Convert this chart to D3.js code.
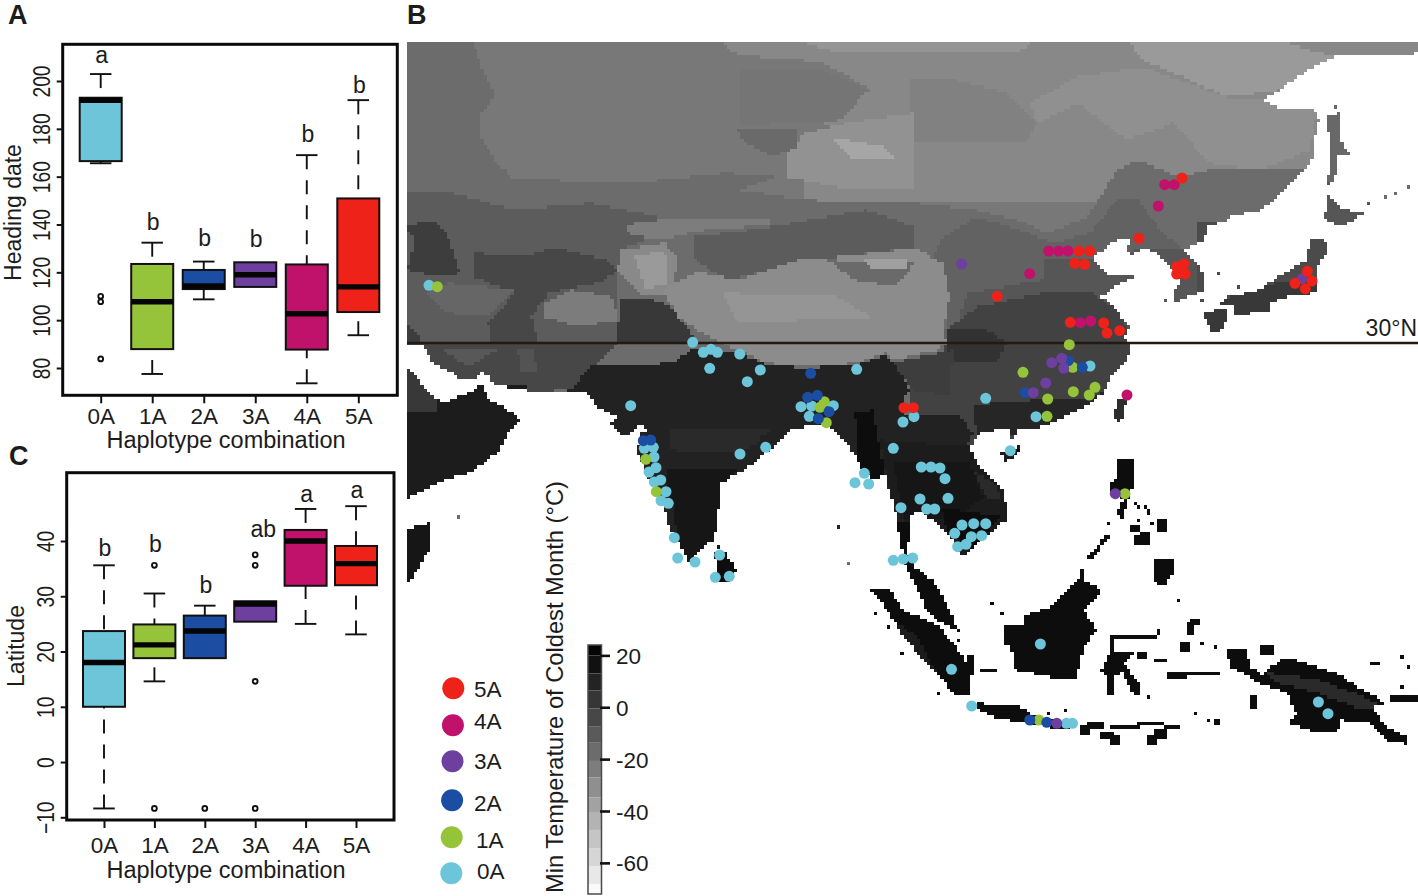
<!DOCTYPE html>
<html>
<head>
<meta charset="utf-8">
<script src="https://cdn.jsdelivr.net/npm/d3@7"></script>
<style>
  html, body { margin: 0; background: #fff; }
  svg { display: block; }
  text { font-family: "Liberation Sans", Arial, sans-serif; fill: #1c1c1c; }
</style>
</head>
<body>
<svg id="fig" width="1418" height="896"></svg>
<script>
// categories
const haplotypes = ["0A", "1A", "2A", "3A", "4A", "5A"];
const legendOrder = ["5A", "4A", "3A", "2A", "1A", "0A"];
const hapColors = ["#6cc5d9", "#95c43a", "#1b4ea3", "#6d3f9f", "#c0126b", "#ee2218"];

// panel A, heading date
const headingTicks = [80, 100, 120, 140, 160, 180, 200];
const headingQ1 = [166.5, 87.9, 113, 113.9, 87.7, 103.4];
const headingMed = [191.9, 107.7, 114.3, 119, 102.7, 113.9];
const headingQ3 = [193, 123.5, 121, 124.2, 123.3, 150.9];
const headingLo = [165.6, 77.5, 108.7, 113.9, 73.6, 93.7];
const headingHi = [202.9, 132.4, 124.5, 124.2, 169, 192];
const headingOut = [[110, 107.7, 83.8], [], [], [], [], []];
const headingSig = ["a", "b", "b", "b", "b", "b"];
const headingSigAt = [207.5, 137.7, 131, 130.7, 174.6, 195];

// panel C, latitude
const latTicks = [-10, 0, 10, 20, 30, 40];
const latQ1 = [10, 18.8, 18.8, 25.4, 31.9, 32];
const latMed = [18, 21.2, 23.7, 28.6, 40, 35.9];
const latQ3 = [23.7, 24.9, 26.5, 29.1, 42, 39.1];
const latLo = [-8.4, 14.6, 18.8, 25.4, 25, 23.1];
const latHi = [35.6, 30.5, 28.3, 29.1, 45.8, 46.3];
const latOut = [[], [35.6, -8.4], [-8.4], [37.5, 35.6, 14.6, -8.4], [], []];
const latSig = ["b", "b", "b", "ab", "a", "a"];
const latSigAt = [37.2, 38, 30.6, 40.7, 47.1, 47.7];

// accessions on the map, [lon, lat]
const sites0A = [[51.2,35.77],[77.57,30.07],[78.63,29.07],[79.4,29.37],[80.03,29.07],[82.27,28.9],[79.27,27.47],[84.33,27.3],[83.03,26.13],[93.97,27.37],[71.37,23.73],[88.4,23.63],[89.47,23.7],[91.63,23.73],[89.23,22.67],[72.73,19.47],[73.63,19.57],[73.7,18.6],[73.9,17.53],[73.2,17.1],[74.37,16.3],[73.73,16.1],[74.9,15.13],[74.4,14.23],[75.13,13.97],[75.73,10.53],[76.07,8.5],[77.8,8.1],[80.27,8.8],[79.83,6.57],[81.23,6.67],[82.3,18.9],[84.87,19.57],[94.73,16.97],[93.8,16.03],[95.17,15.9],[98.4,13.53],[97.63,19.47],[98.6,22.1],[99.7,22.63],[106.87,24.47],[100.43,17.6],[101.4,17.6],[102.3,17.5],[102.8,16.43],[103.1,14.47],[100.3,14.4],[100.97,13.4],[101.77,13.4],[104.5,11.8],[105.67,11.93],[106.87,11.93],[103.77,10.97],[105.43,10.63],[106.47,10.73],[104.07,9.63],[104.9,9.87],[97.63,8.27],[98.63,8.4],[99.57,8.5],[111.9,22.63],[109.33,19.23],[117.3,27.7],[103.45,-2.63],[112.34,-0.1],[105.47,-6.3],[114.94,-8.03],[115.55,-8.03],[140.14,-5.9],[141.1,-7.07]];
const sites1A = [[52.03,35.63],[115.23,29.83],[110.6,27.07],[115.57,27.57],[113.07,24.4],[113,22.67],[115.63,25.13],[117.23,24.8],[117.8,25.57],[120.8,14.93],[90.73,24.13],[90.3,23.57],[90.93,22.03],[72.87,18.37],[73.93,15.13],[112.2,-7.7]];
const sites2A = [[72.63,20.23],[73.37,20.3],[89.37,26.97],[89.07,24.57],[90.03,24.77],[91.2,23.13],[90.13,22.43],[115.13,28.23],[116.53,27.57],[110.8,25.03],[111.28,-7.7],[112.98,-7.93]];
const sites3A = [[113.47,28.03],[114.47,28.47],[114.67,27.47],[112.87,26],[111.63,25.03],[119.83,14.93],[104.47,37.9],[138.5,36.43],[113.98,-8.03]];
const sites4A = [[124.77,45.83],[125.73,45.83],[124.13,43.7],[113.17,39.2],[114.17,39.2],[115.1,39.2],[111.27,36.93],[116.33,32.03],[117.37,32.2],[121,24.8]];
const sites5A = [[126.5,46.5],[122.2,40.47],[116.2,39.2],[117.27,39.2],[115.77,37.97],[116.77,37.87],[108.03,34.67],[115.33,32.07],[118.67,32],[119,31],[120.27,31.23],[125.97,37.63],[126.7,37.9],[125.97,36.9],[126.83,36.9],[139.03,37.17],[139.5,36.2],[137.8,35.97],[138.83,35.43],[98.7,23.53],[99.63,23.53]];
const sitesByHap = [sites0A, sites1A, sites2A, sites3A, sites4A, sites5A];

// land outlines, [lon, lat]
const eurasia = [[48.5,60.3],[151,60.3],[151,59.1],[148.3,58.8],[141.6,58.6],[140.3,58],[138.3,56.8],[136.3,55.3],[134.6,54.3],[136.1,53.5],[139.6,53.6],[140.2,52.3],[140.1,51.3],[139.6,50],[139.5,48.3],[138,46.6],[136.3,45],[134.3,43.1],[131.5,42.8],[131.1,42.3],[129.1,41.6],[128.6,40.3],[126.8,39.3],[128,38.1],[128.8,36.5],[128.8,35.1],[127.6,34.8],[125.8,34.1],[125.6,35.1],[126.3,36.1],[125.5,37.3],[124.5,38.3],[124,39.1],[122.6,39.5],[121.3,38.6],[121,39.5],[121.6,40.5],[120.3,40.6],[119,39.6],[117.6,38.5],[119.3,36.7],[122,36.8],[120,35.8],[118.5,34.6],[119.6,33.8],[120.6,32.3],[121.3,31.6],[120.6,30.5],[121.4,29.8],[121,28.3],[119.6,27],[118.6,25],[116.6,23.5],[114.3,22.5],[112.3,21.5],[110,21.5],[110.1,21.1],[109.5,20.3],[109.1,21.5],[106.3,21],[105.3,19.6],[106,18],[107.6,16.3],[108.8,15],[108.9,12.3],[107.6,11.3],[105.6,9.6],[104.5,8.6],[104,9.5],[103.5,10.6],[101.5,12.3],[100,13.3],[99.5,12.6],[99.3,11],[99,9.1],[99.8,7.6],[101.5,6.3],[103,4],[103.9,1.5],[102.7,1.8],[100.9,3.3],[100,5.6],[98.9,7.6],[98.6,9],[98.1,11.3],[97.9,13],[97.3,15],[96.8,17],[95.8,16.3],[94.5,17.6],[93.6,19.1],[91.8,21.3],[90.8,21.8],[87.5,21.5],[86.5,20.3],[83.8,18.1],[82.1,17],[80.3,15.8],[80.1,12.3],[79.6,10.3],[78.1,9.1],[77.1,8.1],[76.5,9.3],[75.1,12],[74.5,14.3],[73.1,16.6],[72.1,19],[72.3,21],[73,21.3],[72.4,22],[70.8,20.6],[69.3,21.8],[70.1,22.6],[68.1,23.5],[67,25.1],[62.8,25],[57.8,25.8],[57,26.9],[56.3,27],[55.5,26.3],[54.1,26.6],[51.6,28],[50.8,29.6],[48.5,29.8]];
const arabia = [[48.5,27.7],[49,27.7],[50.8,25.5],[52.5,24],[55.1,25],[56.6,25.9],[57.1,24.5],[59.1,23.3],[60.2,22.3],[59.1,21],[58.1,19],[55.1,17],[52.8,16.3],[50.1,15],[48.5,14]];
const horn = [[48.5,11.3],[51.4,12],[51.4,9.5],[49.8,7],[48.5,5.2]];
const sriLanka = [[79.8,9],[80.8,9.1],[81.9,7.3],[81.3,6.1],[80,6.1]];
const sumatra = [[95.2,5.5],[97.3,5.3],[98.6,3.3],[102.1,1.8],[103.2,0.5],[105.3,-2.4],[105.3,-5.2],[104.1,-5.4],[102.5,-3.7],[100.4,-1.4],[98.7,0.6],[96.8,3.6]];
const borneo = [[116.5,7.3],[116.7,6.3],[118.5,5.3],[116.7,3.3],[118,1.3],[116.7,-0.4],[116,-3.4],[114.6,-3.7],[111.4,-3],[109.8,-2.7],[109.4,-0.5],[108.7,0],[108.7,1.8],[110.7,1.8],[110.8,2.8],[113.2,3.6],[114.8,5],[116,6.1]];
const java = [[105.9,-5.9],[107.5,-6.2],[110.3,-6.4],[112.1,-7.4],[116,-8.2],[114.6,-8.6],[111,-8],[109.6,-7.8],[107.8,-7.4],[106.2,-6.7]];
const sulawesi = [[119.2,-1],[121.7,-0.9],[120.6,-2],[122.2,-4],[122.2,-5.2],[121.7,-5.2],[120.5,-3],[119.7,-3.4],[119.7,-5.2],[118.9,-5.2],[119,-3.2],[118.3,-2.9]];
const sulawesiArm = [[119.4,0.8],[123.8,0.8],[124.4,1.6],[124.6,1.4],[123.7,0.4],[119.7,0.5],[119.7,-1],[119.2,-1]];
const newGuinea = [[131,-0.5],[132.9,-0.5],[133.4,-2.4],[134.5,-3.2],[136.3,-1.7],[137.5,-1.5],[139.9,-2.4],[142,-3],[144.1,-4.4],[145.2,-4.9],[146.8,-6],[145.5,-6.5],[147,-8.4],[149.1,-9.5],[149.1,-10.1],[147,-9.9],[145.2,-8],[142.3,-7.7],[142.3,-8.7],[139.9,-8.9],[137,-8],[137.9,-7],[137,-5],[134.2,-4],[133.1,-3.2],[131.3,-2.5]];
const luzon = [[120,18.3],[121.6,18.3],[121.6,15.6],[121.1,14.3],[120.5,12.3],[120,13.1],[120.6,14.3],[119.3,15.3],[119.3,16.1],[120,16.6]];
const mindanao = [[123.5,8.3],[125.8,8.5],[125.6,7],[124.7,5.5],[123.7,6.3]];
const palawan = [[117,8.5],[119,10.9],[119.4,10.7],[117.4,8.3]];
const taiwan = [[120.1,24.5],[121,24.5],[120.3,21.8],[119.6,22.6]];
const hainan = [[108.3,19.1],[110.6,19.8],[109.6,18.5],[108.8,18.1]];
const honshu = [[139.3,40.5],[140.8,40.3],[141.1,39.3],[140,37.5],[140.1,35],[137.5,34.8],[135.3,34],[135.3,33.1],[131.8,32.8],[131.6,33.6],[130.3,33.8],[131,34.6],[134.3,35.3],[135.6,36.3],[137.3,37.3],[139,38.3]];
const kyushu = [[128.6,33],[130.8,33.6],[131.1,32.3],[130.1,31],[129.5,31]];
const hokkaido = [[141,45],[142.3,43.6],[144.7,42.9],[142.3,41.6],[140.6,42.5],[141,43.3]];
const sakhalin = [[141,52.8],[142.3,53],[142.5,50],[143.4,48.9],[142,48.6],[141.8,46.6],[141,45.6],[141.3,48],[141.3,50]];
const landPolys = [eurasia, arabia, horn, sriLanka, sumatra, borneo, java, sulawesi, sulawesiArm, newGuinea, luzon, mindanao, palawan, taiwan, hainan, honshu, kyushu, hokkaido, sakhalin];

// smaller islands as [lon0, lat0, lon1, lat1]
const islandBoxes = [[116.4,-8.9,117.1,-8.3],[117.1,-8.4,118.5,-8],[119.4,-8.5,122,-8.3],[122,-8.2,123.1,-8],[123.5,-8.2,124.5,-8],[124.7,-8.5,126.3,-8.3],[118.5,-9.5,119.6,-8.9],[119.4,-9.9,120.3,-9.4],[123.1,-9.9,123.8,-9.4],[123.8,-9.4,124.9,-8.7],[125.3,-3.4,126.7,-3.1],[127.2,-3.2,130,-2.9],[126.5,-0.7,127.2,0],[127.1,0.9,127.5,1.8],[127.5,1.9,128,2.4],[123.8,-1.8,124.9,-1.6],[122,-1.4,122.8,-1.2],[106.4,-2.8,107.8,-2.6],[105.3,-3,105.5,-1.5],[134.5,-0.9,135.4,-0.5],[145.5,-2.1,146.3,-1.9],[147.5,-5.6,150,-5.3],[133.5,-6.4,133.7,-5.4],[129.9,-8.2,130.3,-7.7],[121.6,11.2,122.2,11.6],[122.5,10,123,11],[121.7,10,122.3,10.5],[124,11.4,124.7,12.3]];
const islets = [[145.3,43.9],[146.7,44.6],[147.8,45],[149.1,45.6],[130.1,37.1],[132.1,35.7],[124.8,34.3],[128.6,34.3],[141.8,53.5],[54.2,12.6],[92.1,11.6],[93.1,8],[80,9.7],[119.3,12],[107.6,4],[108.4,3],[126.1,4.4],[102,-5.2],[98.6,-1.2],[97,1.6],[95.7,2.8],[104.1,1.2],[104.1,0.2],[114.8,-6.6],[113,-7],[123.3,-5.5],[127.9,-7],[129,-7.7],[129.9,-0.3],[128.6,0.1],[148.6,-1.3],[149.3,-2.4],[148.4,-4.5],[121.7,14],[122.2,13.7],[122.7,13.6],[123.1,13.2],[123.3,12.8],[122.3,12.4],[123.6,11.8]];

// temperature regions, later ones paint over earlier ones
const mapBaseTemp = -22.5;
const tempRegions = [
  [-29, [[80.1,60.3],[151,60.3],[151,44],[99.8,44],[88.8,44.3],[88.5,50],[92,51.5],[88.8,52.6],[95.5,55.3],[90.5,58.1],[82.1,58.8]]],
  [-21, [[82.5,57.6],[90.5,57.4],[95,55.3],[92.5,52.3],[82.5,51.8]]],
  [-36, [[121,60.3],[136,60.3],[141.6,58.6],[136.3,55.3],[131,54.6],[126.6,56.6],[122.6,58.3]]],
  [-34, [[88,60.3],[112,60.3],[110,59],[92,59]]],
  [-32, [[111.3,54],[116,56.6],[122.6,57.6],[131,54.6],[134.6,54.3],[140,53.3],[139.3,49.3],[134.3,47.3],[129.3,48],[125.6,52],[121,50.3],[116,54],[112,52]]],
  [-26, [[99.3,56.3],[104,56.3],[109,55],[112,52],[111,50],[99.3,50]]],
  [-33, [[88.8,51],[92.8,52],[99.8,53],[99.8,45.6],[92.1,45.6],[87.1,46.6],[87.1,49]]],
  [-41, [[91.5,50.6],[96.8,49.6],[97.8,48.3],[93.5,48.3]]],
  [-17, [[82.1,51.3],[88.1,51.6],[88.1,49.6],[85.5,48.6],[82.8,50]]],
  [-18, [[48.5,60.3],[55.5,60.3],[56.5,57.6],[57.8,54.6],[56.3,53],[56.5,50.3],[57.8,48.3],[59.5,46.6],[68.1,46],[74.8,46.3],[80.8,47],[85.8,46.6],[82.1,45.3],[88.8,44.3],[99.8,44],[106,43.3],[110,42.3],[113,41],[117,42.5],[120,47.3],[122.3,48.3],[126,46.6],[129.3,47.3],[133.6,47.3],[136.3,47.3],[151,47.3],[151,-12],[48.5,-12]]],
  [-14, [[106,42.6],[110.3,41.3],[113.6,40],[117.3,41],[120,44.3],[122,44.6],[124.3,41.3],[126.3,39.6],[132.6,39.6],[132.6,10],[100,10],[103.3,35],[101.3,38],[102.6,40.6]]],
  [-9.5, [[112.6,38.3],[120,38.6],[122.6,39.6],[127,39.6],[129.3,36],[129.3,33],[121.3,28.3],[103,28.3],[105,35],[112.6,36.3]]],
  [-4.5, [[128,30],[146,30],[146,42],[128,42]]],
  [2.5, [[130,30],[141,30],[141,36.6],[136,36],[131,34.5],[128,34]]],
  [-9, [[140,41.5],[146,41.5],[146,46],[140,46]]],
  [-16, [[140.5,46],[144,46],[144,54],[140.5,54]]],
  [-1, [[103,31.3],[106,33.6],[112.6,35],[117.6,35],[120,33.3],[122,29.6],[125,29],[125,15],[100,15],[99.3,25.3],[101.6,27.3],[103,30]]],
  [5, [[103,31.3],[104.3,31.6],[107,31.3],[109,30],[108,28],[103,28]]],
  [-11.6, [[48.5,45.3],[53.5,45],[59.8,43.3],[67.5,44],[74.1,42.6],[74.1,41],[70.5,39.3],[70.1,37.3],[70.1,30],[48.5,30]]],
  [-3, [[55.8,39],[60.5,38.6],[63.8,39.6],[68.8,38.3],[70.1,37.3],[68.1,36],[63.1,35],[61.5,32.6],[62.1,30],[57.5,30],[57.1,32],[59.8,35],[55.8,36.6]]],
  [1, [[48.5,41.6],[51.8,42.3],[53.1,40.6],[54.3,37],[52.1,36.6],[49.1,37.3],[49.8,40.6]]],
  [-15.5, [[53.1,36],[59.8,35.3],[57.1,32.6],[53.1,33],[50.8,35]]],
  [-23.7, [[62.8,34],[65.5,35.3],[69.5,34.6],[70.1,32.3],[66.1,31.6],[62.8,32.6]]],
  [1, [[48.5,32.3],[50.5,30.3],[48.5,30]]],
  [3, [[69.8,30],[70.5,34.3],[72.8,34.6],[75.5,33.6],[78.1,30]]],
  [-24.5, [[70.8,41.8],[74.1,42.3],[85.5,42.6],[85.5,41.8],[78.8,41.3],[74.1,40.3],[71.1,41]]],
  [-11, [[77.8,40.6],[85.5,41.6],[94.8,43.3],[99.8,41.6],[99.8,39.6],[92.1,38.6],[85.5,37.3],[80.8,36.3],[77.8,38.3]]],
  [-29.5, [[70.5,39.3],[74.8,40],[76.1,38.3],[75.5,35.6],[74.1,34.6],[72.1,35],[70.1,37.3]]],
  [-36, [[71.8,38.6],[74.8,39.3],[75.1,36],[72.8,35.3]]],
  [-30.7, [[74.5,35.3],[78.1,37.1],[82.1,36.3],[88.1,38.3],[92.1,38.6],[99.8,39.5],[102.6,38],[103.3,34.6],[102.6,31.3],[103,30],[102,29.3],[97.6,28.3],[96.8,29],[93.8,28],[88.8,27.6],[85.1,28],[82.1,29.3],[78.1,31.3],[76.1,32.6]]],
  [-17, [[91.1,38.3],[99.8,38],[97.8,35.6],[93.8,36.3]]],
  [-38, [[94.5,38.3],[98.8,38.6],[99.1,37.3],[95.5,37.6]]],
  [-34, [[80.5,35],[92.1,34.6],[95.5,32.6],[82.1,32]]],
  [-3, [[48.5,30],[70,30],[67.5,27.6],[65.5,25.3],[50,25],[48.5,25]]],
  [-10, [[52.1,29.6],[58,29.3],[55,27.6]]],
  [-8, [[60.1,29.3],[61.5,29.6],[62.1,27],[60.5,27]]],
  [11, [[67.5,27.6],[75.5,28],[77.8,29.6],[82.1,29],[85.1,27.8],[88.8,27.5],[93.8,27.8],[96.8,28.8],[97.6,28.1],[99.3,25.3],[98.6,24.3],[100,10],[60,10],[60,25],[65.5,25.3],[66.8,27]]],
  [13, [[48.5,13],[61,13],[61,24.6],[48.5,24.6]]],
  [13, [[52.5,24],[61,24],[61,25.9],[55,25.9]]],
  [2.5, [[48.5,28],[51.5,28],[52,23],[48.5,23]]],
  [18, [[48.5,4],[52,4],[52,13],[48.5,13]]],
  [16, [[74.8,17.6],[82.1,17.3],[80.8,15.6],[80.1,8],[76.5,8]]],
  [9, [[75.5,21.3],[85.5,21.6],[83.5,19.6],[80.8,19],[75.5,19.3]]],
  [21, [[79.7,5],[83,5],[83,9.3],[79.7,9.3]]],
  [14, [[96.3,20.3],[105.3,19.6],[109.3,14.6],[109.3,11.3],[104.3,8],[99.3,11.3],[97.6,13.6]]],
  [19, [[93.8,23],[95.5,23.3],[97.2,15],[94.1,17.3]]],
  [18, [[97.6,18],[105.3,18],[106.6,14.6],[104.3,12.6],[98.6,12.6]]],
  [21, [[102.3,13.6],[108.3,12.6],[105.6,9.3],[103,11.3]]],
  [9, [[105.6,17.3],[107.6,16],[108.6,14.3],[107,14.3]]],
  [11, [[96.3,23],[104.3,22.6],[105.6,21],[105,19.6],[96.6,20.3]]],
  [9.5, [[105.6,23.8],[114.3,24.5],[117.3,24.6],[118.6,25],[119.6,23.6],[114.3,21.3],[106,20.6]]],
  [1, [[97.6,28],[103.6,29.3],[103.3,24.6],[99.6,25.3]]],
  [14, [[108,17.5],[111,17.5],[111,20],[108,20]]],
  [7, [[119,21],[122,21],[122,25],[119,25]]],
  [20, [[94,-12],[151,-12],[151,8],[94,8]]],
  [20, [[98,8],[99.6,8],[99.6,12],[98,12]]],
  [20, [[110,8],[151,8],[151,19.3],[110,19.3]]],
  [9, [[135,-3],[140,-3.6],[145,-5.5],[146.5,-6.5],[144,-6.5],[140,-5],[136,-4]]],
  [13, [[98,2],[100,0.6],[102,-3],[101.5,-3],[98.5,0.5]]]
];

// colour bar
const tempTicks = [20, 0, -20, -40, -60];
const tempBreaks = [24, 20, 13, 6.5, -0.5, -7.3, -13.7, -20.7, -27, -34.7, -40.7, -47.3, -54.3, -61.2, -68.3, -72];
const tempGreys = ["#050505", "#111111", "#232323", "#363636", "#474747", "#5a5a5a", "#6c6c6c", "#7d7d7d", "#8f8f8f", "#a2a2a2", "#b3b3b3", "#c5c5c5", "#d6d6d6", "#e8e8e8", "#fafafa"];

const svg = d3.select("#fig");

//scales for the map
const lonX = d3.scaleLinear().domain([49, 150.1]).range([407, 1418]);
const latY = d3.scaleLinear().domain([60.1, -12]).range([42, 763]);
const tempGrey = d3.scaleLinear().domain([20, -60]).range(["#0d0d0d", "#d6d6d6"]);

const cellDeg = 1 / 3;
const nCols = Math.ceil((150.1 - 49) / cellDeg);
const nRows = Math.ceil((60.1 + 10.4) / cellDeg);

const extraLand = new Set();
const colOf = (lon) => Math.floor((lon - 49) / cellDeg);
const rowOf = (lat) => Math.floor((60.1 - lat) / cellDeg);
islets.forEach(([lon, lat]) => extraLand.add(rowOf(lat) * 1000 + colOf(lon)));
islandBoxes.forEach(([a, b, c, d]) => {
  for (let r = rowOf(d); r <= rowOf(b); r++) {
    for (let k = colOf(a); k <= colOf(c); k++) extraLand.add(r * 1000 + k);
  }
});

const paths = new Map();
for (let r = 0; r < nRows; r++) {
  for (let k = 0; k < nCols; k++) {
    const lon = 49 + (k + 0.5) * cellDeg;
    const lat = 60.1 - (r + 0.5) * cellDeg;
    const p = [lon, lat];
    if (!extraLand.has(r * 1000 + k) && !landPolys.some((poly) => d3.polygonContains(poly, p))) continue;

    let temp = mapBaseTemp;
    for (let i = tempRegions.length - 1; i >= 0; i--) {
      if (d3.polygonContains(tempRegions[i][1], p)) {
        temp = tempRegions[i][0];
        break;
      }
    }
    const x0 = lonX(49 + k * cellDeg);
    const x1 = lonX(49 + (k + 1) * cellDeg);
    const y0 = latY(60.1 - r * cellDeg);
    const y1 = latY(60.1 - (r + 1) * cellDeg);
    const d = `M${x0},${y0}H${x1}V${y1}H${x0}Z`;
    paths.set(temp, (paths.get(temp) || "") + d);
  }
}

const defs = svg.append("defs");
defs.append("filter").attr("id", "soft").append("feGaussianBlur").attr("stdDeviation", 0.45);

const mapG = svg.append("g").attr("filter", "url(#soft)");
paths.forEach((d, temp) => {
  mapG.append("path").attr("d", d).attr("fill", tempGrey(temp)).attr("shape-rendering", "crispEdges");
});

//30N line
svg.append("line")
  .attr("x1", lonX(49)).attr("x2", lonX(150.1))
  .attr("y1", latY(30)).attr("y2", latY(30))
  .attr("stroke", "#231a16").attr("stroke-width", 2.4);
svg.append("text").attr("x", 1417).attr("y", latY(30) - 7)
  .attr("text-anchor", "end").attr("font-size", 23).text("30°N");

//sites
haplotypes.forEach((h, i) => {
  svg.append("g").selectAll("circle").data(sitesByHap[i]).join("circle")
    .attr("cx", (d) => lonX(d[0]))
    .attr("cy", (d) => latY(d[1]))
    .attr("r", 5.5)
    .attr("fill", hapColors[i]);
});

//legend
const legendDotY = [688.3, 725.3, 761.3, 800.3, 837.3, 873.3];
const legendTextX = [474, 474, 474, 474, 476, 477];
const legendTextY = [696.7, 729, 769, 811, 848, 879];
legendOrder.forEach((h, i) => {
  svg.append("circle").attr("cx", 453.3 - i * 0.4).attr("cy", legendDotY[i]).attr("r", 11)
    .attr("fill", hapColors[haplotypes.indexOf(h)]);
  svg.append("text").attr("x", legendTextX[i]).attr("y", legendTextY[i]).attr("font-size", 22.5).text(h);
});

//colour bar
const barY = d3.scaleLinear().domain([-72, 24]).range([894, 645]);
svg.append("g").selectAll("rect").data(tempGreys).join("rect")
  .attr("x", 588).attr("width", 13.5)
  .attr("y", (d, i) => barY(tempBreaks[i]))
  .attr("height", (d, i) => barY(tempBreaks[i + 1]) - barY(tempBreaks[i]))
  .attr("fill", (d) => d);
svg.append("rect").attr("x", 588).attr("y", barY(24)).attr("width", 13.5).attr("height", barY(-72) - barY(24))
  .attr("fill", "none").attr("stroke", "#4a4a4a").attr("stroke-width", 1.5);
const barAxis = svg.append("g").attr("transform", "translate(600,0)")
  .call(d3.axisRight(barY).tickValues(tempTicks).tickSize(10).tickPadding(6));
barAxis.select(".domain").remove();
barAxis.selectAll("line").attr("stroke", "#111").attr("stroke-width", 2.6);
barAxis.selectAll("text").attr("font-size", 22.5).attr("font-family", "Liberation Sans").attr("dy", "0.36em")
  .text((d) => d);
svg.append("text").attr("transform", "translate(563,893) rotate(-90)")
  .attr("font-size", 23.7).text("Min Temperature of Coldest Month (°C)");

//box plot panels
function drawPanel(p) {
  const x = d3.scalePoint().domain(haplotypes).range(p.xRange);
  const y = d3.scaleLinear().domain(p.yDomain).range(p.yRange);
  const g = svg.append("g");
  const boxW = 42;
  const capW = 21.5;

  haplotypes.forEach((h, i) => {
    const cx = x(h);
    //whiskers, dashes start from the cap
    [[p.hi[i], p.q3[i]], [p.lo[i], p.q1[i]]].forEach(([w, edge]) => {
      if (w === edge) return;
      g.append("line").attr("x1", cx).attr("x2", cx).attr("y1", y(w)).attr("y2", y(edge))
        .attr("stroke", "#111").attr("stroke-width", 1.9).attr("stroke-dasharray", "14 11");
      g.append("line").attr("x1", cx - capW / 2).attr("x2", cx + capW / 2).attr("y1", y(w)).attr("y2", y(w))
        .attr("stroke", "#111").attr("stroke-width", 1.9);
    });
    g.append("rect").attr("x", cx - boxW / 2).attr("width", boxW)
      .attr("y", y(p.q3[i])).attr("height", y(p.q1[i]) - y(p.q3[i]))
      .attr("fill", hapColors[i]).attr("stroke", "#111").attr("stroke-width", 2);
    g.append("line").attr("x1", cx - boxW / 2).attr("x2", cx + boxW / 2).attr("y1", y(p.med[i])).attr("y2", y(p.med[i]))
      .attr("stroke", "#050505").attr("stroke-width", 5.4);
    g.selectAll(null).data(p.out[i]).join("circle")
      .attr("cx", cx).attr("cy", (d) => y(d)).attr("r", 2.4)
      .attr("fill", "#fff").attr("stroke", "#111").attr("stroke-width", 1.9);
    g.append("text").attr("x", cx + (p.sig[i].length > 1 ? 8 : 1)).attr("y", y(p.sigAt[i]))
      .attr("text-anchor", "middle").attr("font-size", 23).text(p.sig[i]);
  });

  g.append("rect").attr("x", p.frame[0]).attr("y", p.frame[1])
    .attr("width", p.frame[2] - p.frame[0]).attr("height", p.frame[3] - p.frame[1])
    .attr("fill", "none").attr("stroke", "#0a0a0a").attr("stroke-width", 3);

  //axes
  const xAxis = g.append("g").attr("transform", `translate(0,${p.frame[3]})`)
    .call(d3.axisBottom(x).tickSize(8).tickPadding(p.xPad));
  xAxis.select(".domain").remove();
  xAxis.selectAll("line").attr("stroke", "#111").attr("stroke-width", 2);
  xAxis.selectAll("text").attr("font-size", 22.5).attr("font-family", "Liberation Sans");

  const yAxis = g.append("g").attr("transform", `translate(${p.frame[0]},0)`)
    .call(d3.axisLeft(y).tickValues(p.ticks).tickSize(6));
  yAxis.select(".domain").remove();
  yAxis.selectAll("line").attr("stroke", "#111").attr("stroke-width", 2);
  yAxis.selectAll("text")
    .attr("x", null).attr("dy", null)
    .attr("text-anchor", "middle")
    .attr("font-size", 24).attr("font-family", "Liberation Sans")
    .attr("transform", "translate(-12.5,0) rotate(-90) scale(0.8,1)");

  g.append("text").attr("x", 226).attr("y", p.xTitleY).attr("text-anchor", "middle")
    .attr("font-size", 23.5).text("Haplotype combination");
  g.append("text").attr("transform", `translate(${p.yTitleX},${p.yTitleY}) rotate(-90)`)
    .attr("text-anchor", "middle").attr("font-size", 23).text(p.yTitle);
}

drawPanel({
  xRange: [100.7, 358.3], yDomain: [80, 200], yRange: [368, 81], frame: [62.7, 44.3, 397.3, 395.3],
  ticks: headingTicks, q1: headingQ1, med: headingMed, q3: headingQ3, lo: headingLo, hi: headingHi,
  out: headingOut, sig: headingSig, sigAt: headingSigAt, xPad: 5,
  xTitleY: 447.5, yTitleX: 21, yTitleY: 212.5, yTitle: "Heading date"
});
drawPanel({
  xRange: [104, 356], yDomain: [-10, 40], yRange: [817.3, 541], frame: [66.7, 472.7, 394, 820],
  ticks: latTicks, q1: latQ1, med: latMed, q3: latQ3, lo: latLo, hi: latHi,
  out: latOut, sig: latSig, sigAt: latSigAt, xPad: 9,
  xTitleY: 878, yTitleX: 24, yTitleY: 646, yTitle: "Latitude"
});

//panel letters
[["A", 8, 24], ["B", 407, 24], ["C", 9, 465]].forEach(([t, x, y]) => {
  svg.append("text").attr("x", x).attr("y", y).attr("font-size", 27).attr("font-weight", "bold").attr("fill", "#000").text(t);
});
</script>
</body>
</html>
